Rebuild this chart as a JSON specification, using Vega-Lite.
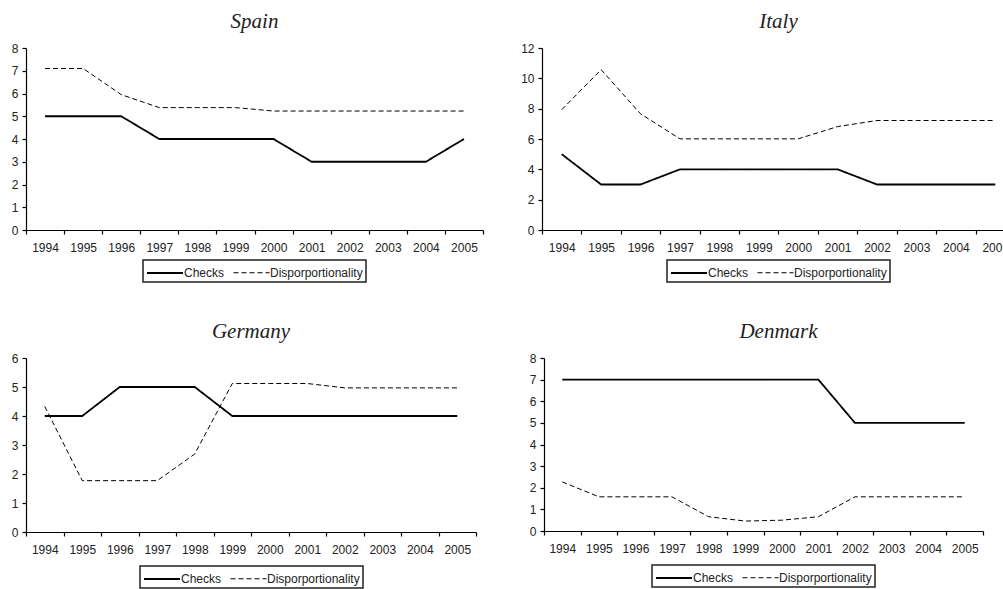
{
  "$schema": "https://vega.github.io/schema/vega-lite/v6.json",
  "padding": {"left": 11, "top": 11, "right": 0, "bottom": 0},
  "background": "white",
  "data": {"values": [
    {"country":"Spain","year":1994,"series":"Checks","value":5},
    {"country":"Spain","year":1995,"series":"Checks","value":5},
    {"country":"Spain","year":1996,"series":"Checks","value":5},
    {"country":"Spain","year":1997,"series":"Checks","value":4},
    {"country":"Spain","year":1998,"series":"Checks","value":4},
    {"country":"Spain","year":1999,"series":"Checks","value":4},
    {"country":"Spain","year":2000,"series":"Checks","value":4},
    {"country":"Spain","year":2001,"series":"Checks","value":3},
    {"country":"Spain","year":2002,"series":"Checks","value":3},
    {"country":"Spain","year":2003,"series":"Checks","value":3},
    {"country":"Spain","year":2004,"series":"Checks","value":3},
    {"country":"Spain","year":2005,"series":"Checks","value":4},
    {"country":"Spain","year":1994,"series":"Disporportionality","value":7.1},
    {"country":"Spain","year":1995,"series":"Disporportionality","value":7.1},
    {"country":"Spain","year":1996,"series":"Disporportionality","value":5.95},
    {"country":"Spain","year":1997,"series":"Disporportionality","value":5.38},
    {"country":"Spain","year":1998,"series":"Disporportionality","value":5.38},
    {"country":"Spain","year":1999,"series":"Disporportionality","value":5.38},
    {"country":"Spain","year":2000,"series":"Disporportionality","value":5.23},
    {"country":"Spain","year":2001,"series":"Disporportionality","value":5.23},
    {"country":"Spain","year":2002,"series":"Disporportionality","value":5.23},
    {"country":"Spain","year":2003,"series":"Disporportionality","value":5.23},
    {"country":"Spain","year":2004,"series":"Disporportionality","value":5.23},
    {"country":"Spain","year":2005,"series":"Disporportionality","value":5.23},
    {"country":"Italy","year":1994,"series":"Checks","value":5},
    {"country":"Italy","year":1995,"series":"Checks","value":3},
    {"country":"Italy","year":1996,"series":"Checks","value":3},
    {"country":"Italy","year":1997,"series":"Checks","value":4},
    {"country":"Italy","year":1998,"series":"Checks","value":4},
    {"country":"Italy","year":1999,"series":"Checks","value":4},
    {"country":"Italy","year":2000,"series":"Checks","value":4},
    {"country":"Italy","year":2001,"series":"Checks","value":4},
    {"country":"Italy","year":2002,"series":"Checks","value":3},
    {"country":"Italy","year":2003,"series":"Checks","value":3},
    {"country":"Italy","year":2004,"series":"Checks","value":3},
    {"country":"Italy","year":2005,"series":"Checks","value":3},
    {"country":"Italy","year":1994,"series":"Disporportionality","value":7.93},
    {"country":"Italy","year":1995,"series":"Disporportionality","value":10.57},
    {"country":"Italy","year":1996,"series":"Disporportionality","value":7.66},
    {"country":"Italy","year":1997,"series":"Disporportionality","value":6.01},
    {"country":"Italy","year":1998,"series":"Disporportionality","value":6.01},
    {"country":"Italy","year":1999,"series":"Disporportionality","value":6.01},
    {"country":"Italy","year":2000,"series":"Disporportionality","value":6.01},
    {"country":"Italy","year":2001,"series":"Disporportionality","value":6.82},
    {"country":"Italy","year":2002,"series":"Disporportionality","value":7.22},
    {"country":"Italy","year":2003,"series":"Disporportionality","value":7.22},
    {"country":"Italy","year":2004,"series":"Disporportionality","value":7.22},
    {"country":"Italy","year":2005,"series":"Disporportionality","value":7.22},
    {"country":"Germany","year":1994,"series":"Checks","value":4},
    {"country":"Germany","year":1995,"series":"Checks","value":4},
    {"country":"Germany","year":1996,"series":"Checks","value":5},
    {"country":"Germany","year":1997,"series":"Checks","value":5},
    {"country":"Germany","year":1998,"series":"Checks","value":5},
    {"country":"Germany","year":1999,"series":"Checks","value":4},
    {"country":"Germany","year":2000,"series":"Checks","value":4},
    {"country":"Germany","year":2001,"series":"Checks","value":4},
    {"country":"Germany","year":2002,"series":"Checks","value":4},
    {"country":"Germany","year":2003,"series":"Checks","value":4},
    {"country":"Germany","year":2004,"series":"Checks","value":4},
    {"country":"Germany","year":2005,"series":"Checks","value":4},
    {"country":"Germany","year":1994,"series":"Disporportionality","value":4.33},
    {"country":"Germany","year":1995,"series":"Disporportionality","value":1.77},
    {"country":"Germany","year":1996,"series":"Disporportionality","value":1.77},
    {"country":"Germany","year":1997,"series":"Disporportionality","value":1.77},
    {"country":"Germany","year":1998,"series":"Disporportionality","value":2.69},
    {"country":"Germany","year":1999,"series":"Disporportionality","value":5.12},
    {"country":"Germany","year":2000,"series":"Disporportionality","value":5.12},
    {"country":"Germany","year":2001,"series":"Disporportionality","value":5.12},
    {"country":"Germany","year":2002,"series":"Disporportionality","value":4.97},
    {"country":"Germany","year":2003,"series":"Disporportionality","value":4.97},
    {"country":"Germany","year":2004,"series":"Disporportionality","value":4.97},
    {"country":"Germany","year":2005,"series":"Disporportionality","value":4.97},
    {"country":"Denmark","year":1994,"series":"Checks","value":7},
    {"country":"Denmark","year":1995,"series":"Checks","value":7},
    {"country":"Denmark","year":1996,"series":"Checks","value":7},
    {"country":"Denmark","year":1997,"series":"Checks","value":7},
    {"country":"Denmark","year":1998,"series":"Checks","value":7},
    {"country":"Denmark","year":1999,"series":"Checks","value":7},
    {"country":"Denmark","year":2000,"series":"Checks","value":7},
    {"country":"Denmark","year":2001,"series":"Checks","value":7},
    {"country":"Denmark","year":2002,"series":"Checks","value":5},
    {"country":"Denmark","year":2003,"series":"Checks","value":5},
    {"country":"Denmark","year":2004,"series":"Checks","value":5},
    {"country":"Denmark","year":2005,"series":"Checks","value":5},
    {"country":"Denmark","year":1994,"series":"Disporportionality","value":2.27},
    {"country":"Denmark","year":1995,"series":"Disporportionality","value":1.58},
    {"country":"Denmark","year":1996,"series":"Disporportionality","value":1.58},
    {"country":"Denmark","year":1997,"series":"Disporportionality","value":1.58},
    {"country":"Denmark","year":1998,"series":"Disporportionality","value":0.66},
    {"country":"Denmark","year":1999,"series":"Disporportionality","value":0.46},
    {"country":"Denmark","year":2000,"series":"Disporportionality","value":0.5},
    {"country":"Denmark","year":2001,"series":"Disporportionality","value":0.66},
    {"country":"Denmark","year":2002,"series":"Disporportionality","value":1.58},
    {"country":"Denmark","year":2003,"series":"Disporportionality","value":1.58},
    {"country":"Denmark","year":2004,"series":"Disporportionality","value":1.58},
    {"country":"Denmark","year":2005,"series":"Disporportionality","value":1.58}
  ]},
  "bounds": "flush",
  "spacing": 310,
  "vconcat": [
    {
      "bounds": "flush",
      "spacing": 59,
      "resolve": {"scale": {"y": "independent", "x": "independent"}, "legend": {"strokeDash": "independent", "strokeWidth": "independent"}},
      "hconcat": [
        {
          "title": "Spain",
          "width": 457, "height": 182,
          "transform": [{"filter": "datum.country === 'Spain'"}],
          "mark": {"type": "line", "color": "#000"},
          "encoding": {
            "x": {"field": "year", "type": "ordinal", "bandPosition": 0.5, "scale": {"type": "band", "paddingInner": 0, "paddingOuter": 0}},
            "y": {"field": "value", "type": "quantitative", "scale": {"domain": [0, 8]}, "axis": {"values": [0,1,2,3,4,5,6,7,8]}},
            "strokeDash": {"field": "series", "type": "nominal", "scale": {"domain": ["Checks", "Disporportionality"], "range": [[1,0],[5,3]]}},
            "strokeWidth": {"field": "series", "type": "nominal", "scale": {"domain": ["Checks", "Disporportionality"], "range": [1.8, 1]}}
          }
        },
        {
          "title": "Italy",
          "width": 473, "height": 182,
          "transform": [{"filter": "datum.country === 'Italy'"}],
          "mark": {"type": "line", "color": "#000"},
          "encoding": {
            "x": {"field": "year", "type": "ordinal", "bandPosition": 0.5, "scale": {"type": "band", "paddingInner": 0, "paddingOuter": 0}},
            "y": {"field": "value", "type": "quantitative", "scale": {"domain": [0, 12]}, "axis": {"values": [0,2,4,6,8,10,12]}},
            "strokeDash": {"field": "series", "type": "nominal", "scale": {"domain": ["Checks", "Disporportionality"], "range": [[1,0],[5,3]]}},
            "strokeWidth": {"field": "series", "type": "nominal", "scale": {"domain": ["Checks", "Disporportionality"], "range": [1.8, 1]}}
          }
        }
      ]
    },
    {
      "bounds": "flush",
      "spacing": 68,
      "resolve": {"scale": {"y": "independent", "x": "independent"}, "legend": {"strokeDash": "independent", "strokeWidth": "independent"}},
      "hconcat": [
        {
          "title": "Germany",
          "width": 450, "height": 174,
          "transform": [{"filter": "datum.country === 'Germany'"}],
          "mark": {"type": "line", "color": "#000"},
          "encoding": {
            "x": {"field": "year", "type": "ordinal", "bandPosition": 0.5, "scale": {"type": "band", "paddingInner": 0, "paddingOuter": 0}},
            "y": {"field": "value", "type": "quantitative", "scale": {"domain": [0, 6]}, "axis": {"values": [0,1,2,3,4,5,6]}},
            "strokeDash": {"field": "series", "type": "nominal", "scale": {"domain": ["Checks", "Disporportionality"], "range": [[1,0],[5,3]]}, "legend": {"offset": 11}},
            "strokeWidth": {"field": "series", "type": "nominal", "scale": {"domain": ["Checks", "Disporportionality"], "range": [1.8, 1]}, "legend": {"offset": 11}}
          }
        },
        {
          "title": {"text": "Denmark", "dx": 15},
          "width": 439, "height": 173,
          "transform": [{"filter": "datum.country === 'Denmark'"}],
          "mark": {"type": "line", "color": "#000"},
          "encoding": {
            "x": {"field": "year", "type": "ordinal", "bandPosition": 0.5, "scale": {"type": "band", "paddingInner": 0, "paddingOuter": 0}},
            "y": {"field": "value", "type": "quantitative", "scale": {"domain": [0, 8]}, "axis": {"values": [0,1,2,3,4,5,6,7,8]}},
            "strokeDash": {"field": "series", "type": "nominal", "scale": {"domain": ["Checks", "Disporportionality"], "range": [[1,0],[5,3]]}, "legend": {"offset": 11}},
            "strokeWidth": {"field": "series", "type": "nominal", "scale": {"domain": ["Checks", "Disporportionality"], "range": [1.8, 1]}, "legend": {"offset": 11}}
          }
        }
      ]
    }
  ],
  "config": {
    "view": {"stroke": null},
    "axis": {"domainColor": "#000", "tickColor": "#000", "labelColor": "#222", "labelFont": "Liberation Sans", "labelFontSize": 12, "grid": false, "title": null, "domainWidth": 1.2, "tickWidth": 1.2},
    "axisX": {"labelAngle": 0, "tickSize": 4, "labelPadding": 8, "tickBand": "extent"},
    "axisY": {"tickSize": 4, "labelPadding": 4},
    "title": {"font": "Liberation Serif", "fontStyle": "italic", "fontSize": 21, "fontWeight": "normal", "color": "#222", "offset": 10},
    "legend": {"orient": "bottom", "direction": "horizontal", "title": null, "strokeColor": "#222", "strokeWidth": 1.5, "padding": 3, "offset": 7, "symbolType": "M-1,0H3", "symbolSize": 324, "symbolStrokeColor": "#000", "symbolFillColor": "transparent", "labelFont": "Liberation Sans", "labelFontSize": 12, "labelColor": "#222", "columnPadding": 6, "labelOffset": 18, "layout": {"bottom": {"anchor": "middle"}}}
  }
}
